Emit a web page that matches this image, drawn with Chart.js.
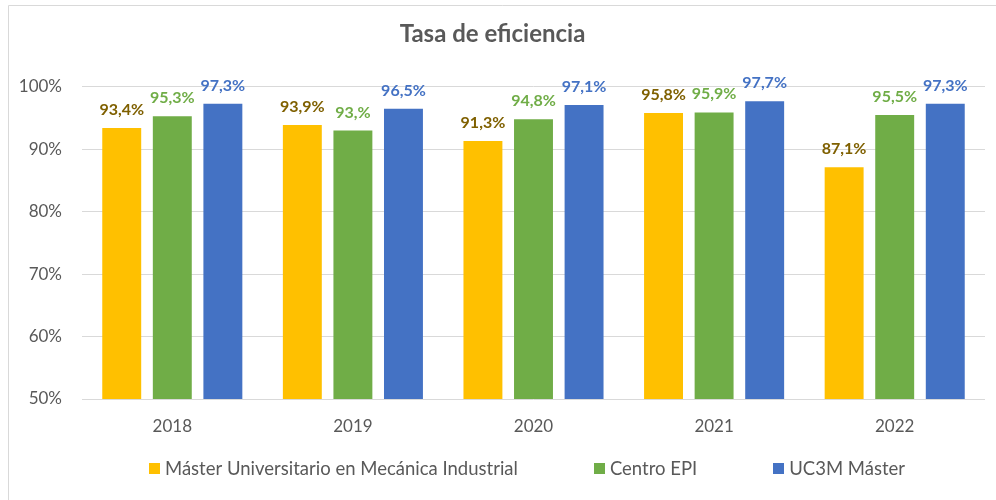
<!DOCTYPE html>
<html>
<head>
<meta charset="utf-8">
<script src="https://cdn.jsdelivr.net/npm/chart.js@4/dist/chart.umd.min.js"></script>
<style>
html,body{margin:0;padding:0;background:#fff;}
#wrap{width:996px;height:500px;position:relative;}
</style>
</head>
<body>
<div id="wrap"><canvas id="c" width="996" height="500"></canvas></div>
<script>
const years = ['2018', '2019', '2020', '2021', '2022'];
const masterValues = [93.4, 93.9, 91.3, 95.8, 87.1];
const centroValues = [95.3, 93.0, 94.8, 95.9, 95.5];
const uc3mValues = [97.3, 96.5, 97.1, 97.7, 97.3];
const seriesNames = ['Máster Universitario en Mecánica Industrial', 'Centro EPI', 'UC3M Máster'];
const titleText = 'Tasa de eficiencia';

const FONT = 'Lato, "Open Sans", sans-serif';
const GREY = '#595959';

function fmt(v) {
  const r = Math.round(v * 10) / 10;
  if (Number.isInteger(r)) return r + ',%';
  return r.toFixed(1).replace('.', ',') + '%';
}

const frame = {
  id: 'frame',
  beforeDraw(chart) {
    const ctx = chart.ctx;
    ctx.save();
    ctx.strokeStyle = '#D9D9D9';
    ctx.lineWidth = 1;
    ctx.beginPath();
    ctx.moveTo(8.5, 500);
    ctx.lineTo(8.5, 5.5);
    ctx.lineTo(996, 5.5);
    ctx.stroke();
    ctx.restore();
  }
};

const labelColors = ['#7F6000', '#70AD47', '#4472C4'];
const dataLabels = {
  id: 'dataLabels',
  afterDatasetsDraw(chart) {
    const ctx = chart.ctx;
    ctx.save();
    ctx.font = 'bold 16px ' + FONT;
    ctx.textAlign = 'center';
    ctx.textBaseline = 'alphabetic';
    chart.data.datasets.forEach((ds, i) => {
      const meta = chart.getDatasetMeta(i);
      ctx.fillStyle = labelColors[i];
      meta.data.forEach((bar, j) => {
        ctx.fillText(fmt(ds.data[j]), bar.x, bar.y - 13);
      });
    });
    ctx.restore();
  }
};

// Legend drawn from the datasets (labels + colours), spaced like the original
const wideLegend = {
  id: 'wideLegend',
  afterDraw(chart) {
    const ctx = chart.ctx;
    const fontSize = 18.5, box = 11, textGap = 5, itemGap = 76, cy = 468;
    ctx.save();
    ctx.font = fontSize + 'px ' + FONT;
    ctx.textBaseline = 'middle';
    ctx.textAlign = 'left';
    const items = chart.data.datasets.map(ds => ({
      text: ds.label, color: ds.backgroundColor,
      w: box + textGap + ctx.measureText(ds.label).width
    }));
    const total = items.reduce((a, it) => a + it.w, 0) + itemGap * (items.length - 1);
    let x = 527 - total / 2;
    items.forEach(it => {
      ctx.fillStyle = it.color;
      ctx.fillRect(Math.round(x), cy - 5, box, box);
      ctx.fillStyle = GREY;
      ctx.fillText(it.text, x + box + textGap, cy + 1);
      x += it.w + itemGap;
    });
    ctx.restore();
  }
};

new Chart(document.getElementById('c'), {
  type: 'bar',
  data: {
    labels: years,
    datasets: [
      { label: seriesNames[0], data: masterValues, backgroundColor: '#FFC000' },
      { label: seriesNames[1], data: centroValues, backgroundColor: '#70AD47' },
      { label: seriesNames[2], data: uc3mValues, backgroundColor: '#4472C4' }
    ]
  },
  options: {
    responsive: false,
    animation: false,
    devicePixelRatio: 1,
    layout: { padding: { left: 0, right: 11, top: 0, bottom: 51 } },
    datasets: { bar: { categoryPercentage: 0.84, barPercentage: 0.77 } },
    scales: {
      x: {
        grid: { display: false },
        border: { display: false },
        ticks: { color: GREY, font: { family: FONT, size: 17 }, padding: 9 },
        afterFit(s) { s.height = 50; }
      },
      y: {
        min: 50, max: 100,
        ticks: { stepSize: 10, color: GREY, font: { family: FONT, size: 17 }, padding: 20,
          callback: v => v + '%' },
        grid: { color: '#D9D9D9', lineWidth: 1, drawTicks: false },
        border: { display: false },
        afterFit(s) { s.width = 82; }
      }
    },
    plugins: {
      title: {
        display: true, text: titleText, color: GREY,
        font: { family: FONT, size: 24, weight: 'bold' },
        padding: { top: 20, bottom: 38 }
      },
      legend: { display: false },
      tooltip: { enabled: false }
    }
  },
  plugins: [frame, dataLabels, wideLegend]
});
</script>
</body>
</html>
